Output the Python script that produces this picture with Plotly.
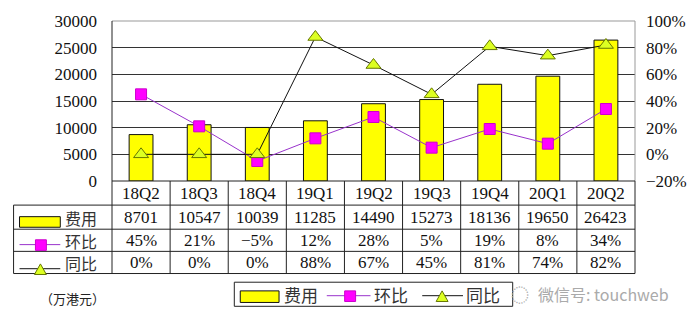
import plotly.graph_objects as go

categories = ["18Q2", "18Q3", "18Q4", "19Q1", "19Q2", "19Q3", "19Q4", "20Q1", "20Q2"]
cost = [8701, 10547, 10039, 11285, 14490, 15273, 18136, 19650, 26423]
qoq = [45, 21, -5, 12, 28, 5, 19, 8, 34]
yoy = [0, 0, 0, 88, 67, 45, 81, 74, 82]
left_ticks = [0, 5000, 10000, 15000, 20000, 25000, 30000]
right_ticks = [-20, 0, 20, 40, 60, 80, 100]

W, H = 699, 328
L, R, T, B = 112, 638, 15, 181


def px(x):
    return (x - L) / (R - L)


def py(y):
    return (B - y) / (B - T)


SERIF = "Liberation Serif, 'Noto Sans CJK SC', serif"
FONT = dict(family=SERIF, size=17, color="#111")

fig = go.Figure()
fig.add_trace(go.Bar(
    x=list(range(len(categories))), y=cost, width=0.41,
    marker=dict(color="#FFFF00", line=dict(color="#111", width=1)),
    yaxis="y", showlegend=False))
fig.add_trace(go.Scatter(
    x=list(range(len(categories))), y=qoq, yaxis="y2", mode="lines+markers",
    line=dict(color="#9933CC", width=1),
    marker=dict(symbol="square", size=11, color="#FF00FF", line=dict(color="#CC00CC", width=1)),
    showlegend=False))
fig.add_trace(go.Scatter(
    x=list(range(len(categories))), y=yoy, yaxis="y2", mode="lines+markers",
    line=dict(color="#111", width=1),
    marker=dict(symbol="triangle-up", size=13, color="#DDFF22", line=dict(color="#667700", width=1)),
    showlegend=False))

shapes = []
annotations = []

def hline(x0, x1, y, color="#222", width=1):
    shapes.append(dict(type="line", xref="paper", yref="paper", x0=px(x0), x1=px(x1),
                       y0=py(y), y1=py(y), line=dict(color=color, width=width), layer="above"))

def vline(x, y0, y1, color="#222", width=1):
    shapes.append(dict(type="line", xref="paper", yref="paper", x0=px(x), x1=px(x),
                       y0=py(y0), y1=py(y1), line=dict(color=color, width=width), layer="above"))

def text(x, y, s, size=17, color="#111", xanchor="center", family=SERIF):
    annotations.append(dict(xref="paper", yref="paper", x=px(x), y=py(y), text=s, showarrow=False,
                            xanchor=xanchor, yanchor="middle",
                            font=dict(family=family, size=size, color=color)))

# plot border
hline(L, R, T, color="#999")
vline(R, T, B, color="#999")
vline(L, T, B, color="#222")
hline(L, R, B, color="#222")

# table
row_lines = [206, 231, 254, 277]
for y in row_lines:
    hline(13, R, y)
vline(13, 206, 277)
n = len(categories)
colw = (R - L) / n
for k in range(n + 1):
    vline(L + k * colw, B, 277)

row_centers = [194, 219, 243, 266]
for i, c in enumerate(categories):
    cx = L + (i + 0.5) * colw
    text(cx, row_centers[0], c)
    text(cx, row_centers[1], str(cost[i]))
    text(cx, row_centers[2], f"{qoq[i]}%".replace("-", "−"))
    text(cx, row_centers[3], f"{yoy[i]}%")

CJK = "'Noto Sans CJK SC', sans-serif"
# row legend symbols
shapes.append(dict(type="rect", xref="paper", yref="paper", x0=px(19), x1=px(60), y0=py(229), y1=py(218),
                   fillcolor="#FFFF00", line=dict(color="#111", width=1), layer="above"))
text(81, 219, "费用", family=CJK, size=16, color="#333")
hline(19, 60, 247, color="#9933CC")
shapes.append(dict(type="rect", xref="paper", yref="paper", x0=px(35), x1=px(46), y0=py(253), y1=py(242),
                   fillcolor="#FF00FF", line=dict(color="#CC00CC", width=1), layer="above"))
text(81, 243, "环比", family=CJK, size=16, color="#333")
hline(19, 60, 272, color="#111")
shapes.append(dict(type="path", xref="paper", yref="paper",
                   path=f"M {px(34)} {py(278)} L {px(46)} {py(278)} L {px(40)} {py(267)} Z",
                   fillcolor="#DDFF22", line=dict(color="#667700", width=1), layer="above"))
text(81, 266, "同比", family=CJK, size=16, color="#333")

# bottom legend box
shapes.append(dict(type="rect", xref="paper", yref="paper", x0=px(235), x1=px(515), y0=py(311), y1=py(286),
                   fillcolor="rgba(0,0,0,0)", line=dict(color="#222", width=1), layer="above"))
shapes.append(dict(type="rect", xref="paper", yref="paper", x0=px(241), x1=px(280), y0=py(307), y1=py(295),
                   fillcolor="#FFFF00", line=dict(color="#111", width=1), layer="above"))
text(302, 299, "费用", family=CJK, color="#333")
hline(328, 372, 300, color="#9933CC")
shapes.append(dict(type="rect", xref="paper", yref="paper", x0=px(346), x1=px(357), y0=py(306), y1=py(295),
                   fillcolor="#FF00FF", line=dict(color="#CC00CC", width=1), layer="above"))
text(393, 299, "环比", family=CJK, color="#333")
hline(424, 465, 300, color="#111")
shapes.append(dict(type="path", xref="paper", yref="paper",
                   path=f"M {px(438)} {py(306)} L {px(450)} {py(306)} L {px(444)} {py(295)} Z",
                   fillcolor="#DDFF22", line=dict(color="#667700", width=1), layer="above"))
text(485, 299, "同比", family=CJK, color="#333")

text(72, 303, "（万港元）", family=CJK, size=13, color="#222")
text(522, 298, "◌", family=CJK, size=18, color="#aaa")
text(538, 298, "微信号: touchweb", family=CJK, size=16, color="#aaa", xanchor="left")

fig.update_layout(
    width=W, height=H,
    margin=dict(l=L, r=W - R, t=T, b=H - B),
    paper_bgcolor="white", plot_bgcolor="white",
    bargap=0.5,
    xaxis=dict(range=[-0.5, n - 0.5], showticklabels=False, showgrid=False, zeroline=False,
               fixedrange=True),
    yaxis=dict(range=[0, 30000], tickvals=left_ticks, ticktext=[str(v) for v in left_ticks],
               showgrid=True, gridcolor="#333", gridwidth=1, zeroline=False,
               tickfont=FONT, ticks="", ticklen=0, showline=False, ticklabelstandoff=14),
    yaxis2=dict(range=[-20, 100], overlaying="y", side="right", tickvals=right_ticks,
                ticktext=[f"{v}%".replace("-", "−") for v in right_ticks],
                showgrid=False, zeroline=False, tickfont=FONT, ticks="", showline=False,
                ticklabelstandoff=10),
    shapes=shapes, annotations=annotations,
)
fig.write_html("out.html")
